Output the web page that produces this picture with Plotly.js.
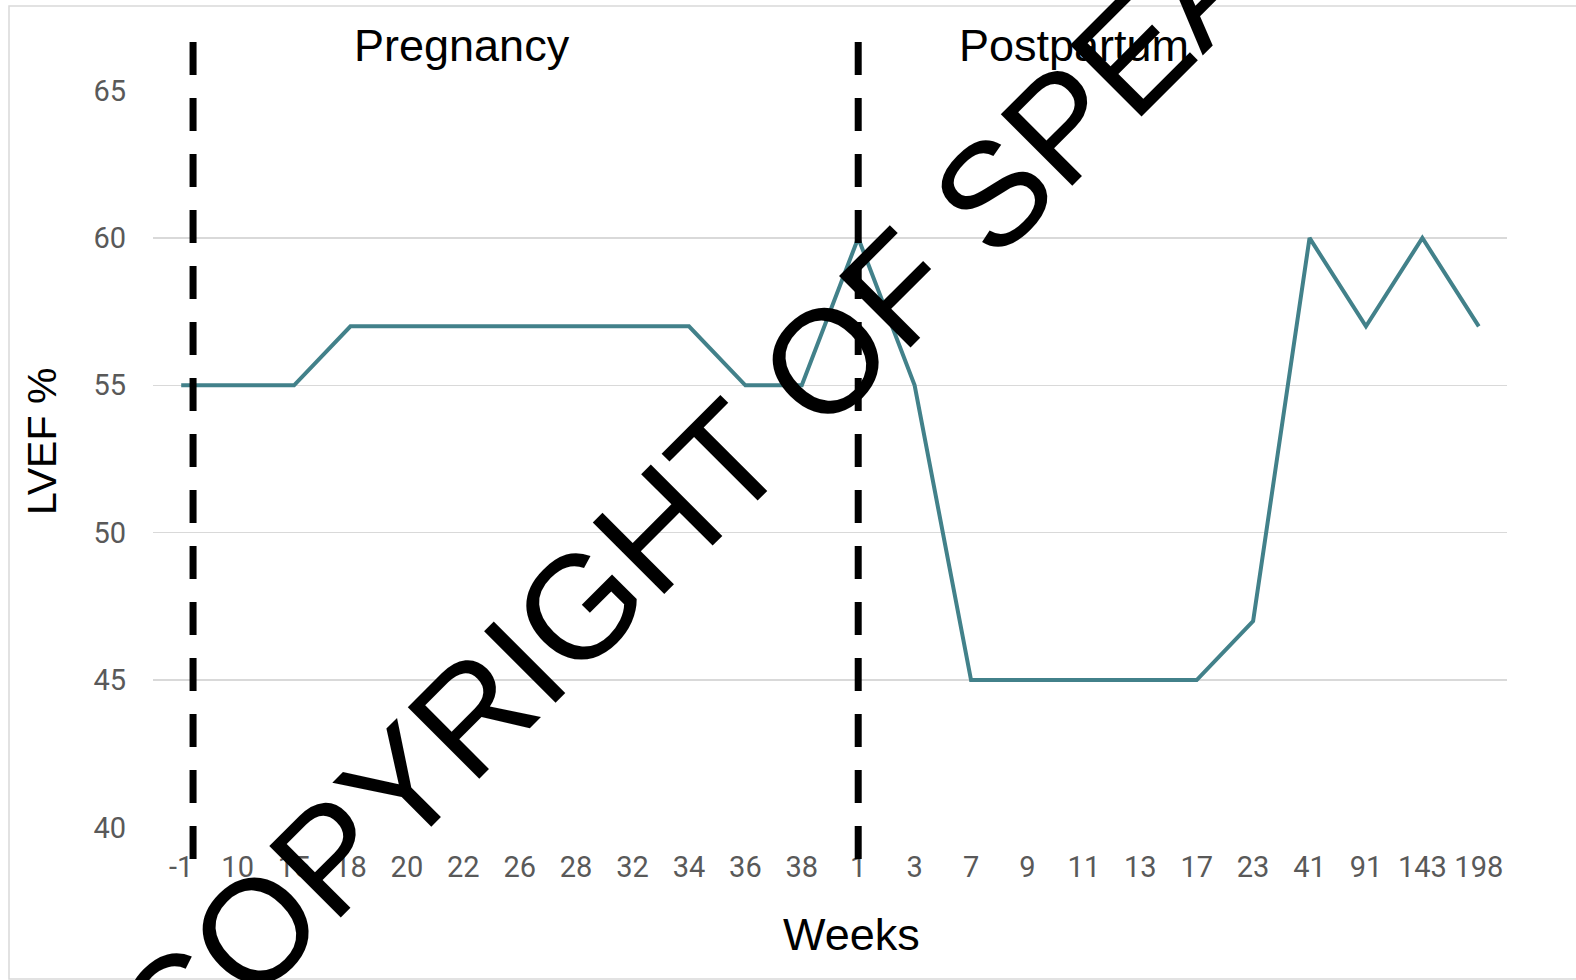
<!DOCTYPE html>
<html>
<head>
<meta charset="utf-8">
<script src="https://cdn.plot.ly/plotly-3.0.1.min.js"></script>
<style>html,body{margin:0;padding:0;background:#fff;}#chart{width:1576px;height:980px;}</style>
</head>
<body>
<div id="chart"></div>
<script>
// Data
const weekLabels = ["-1","10","15","18","20","22","26","28","32","34","36","38","1","3","7","9","11","13","17","23","41","91","143","198"];
const lvef = [55,55,55,57,57,57,57,57,57,57,55,55,60,55,45,45,45,45,45,47,60,57,60,57];
const yTicks = [40,45,50,55,60,65];
const phaseLabels = ["Pregnancy","Postpartum"];
const phaseDividers = [0.21, 12]; // category positions of the dashed dividers
const watermark = "COPYRIGHT OF SPEAKER";

// geometry helpers (pixel -> paper)
const W = 1576, H = 980;
const L = 153, R = 69, T = 90, B = 152;
const pw = W - L - R, ph = H - T - B;
const px = v => (v - L) / pw;
const py = v => (H - B - v) / ph;

const trace = {
  x: weekLabels,
  y: lvef,
  type: 'scatter',
  mode: 'lines',
  line: {color: '#42818a', width: 4},
  hoverinfo: 'skip'
};

const shapes = phaseDividers.map(d => ({
  type: 'line', xref: 'x', yref: 'paper',
  x0: d, x1: d, y0: py(42), y1: py(860),
  line: {color: '#000000', width: 7, dash: '33px,23px'}
}));
shapes.push({
  type: 'rect', xref: 'paper', yref: 'paper', layer: 'below',
  x0: px(9), x1: px(1600), y0: py(6), y1: py(979),
  line: {color: '#d9d9d9', width: 1.5}
});

const titleFont = {family: 'Liberation Sans, Arial, sans-serif', size: 45, color: '#000000'};

const annotations = [
  {text: phaseLabels[0], xref: 'paper', yref: 'paper', x: px(462), y: py(46), showarrow: false, xanchor: 'center', yanchor: 'middle', font: titleFont},
  {text: phaseLabels[1], xref: 'paper', yref: 'paper', x: px(1074), y: py(46), showarrow: false, xanchor: 'center', yanchor: 'middle', font: titleFont},
  {text: 'Weeks', xref: 'paper', yref: 'paper', x: px(851), y: py(934), showarrow: false, xanchor: 'center', yanchor: 'middle', font: titleFont},
  {text: 'LVEF %', xref: 'paper', yref: 'paper', x: px(42), y: py(442), showarrow: false, xanchor: 'center', yanchor: 'middle', textangle: -90, font: {family: 'Liberation Sans, Arial, sans-serif', size: 41, color: '#000000'}},
  {text: watermark, xref: 'paper', yref: 'paper', x: px(795), y: py(391), showarrow: false, xanchor: 'center', yanchor: 'middle', textangle: -45, font: {family: 'Liberation Sans, Arial, sans-serif', size: 147, color: '#000000'}}
];

const layout = {
  width: W, height: H,
  margin: {l: L, r: R, t: T, b: B},
  paper_bgcolor: '#ffffff',
  plot_bgcolor: '#ffffff',
  showlegend: false,
  xaxis: {
    type: 'category',
    categoryorder: 'array',
    categoryarray: weekLabels,
    range: [-0.5, weekLabels.length - 0.5],
    showgrid: false, zeroline: false, showline: false,
    ticks: '',
    ticklabelstandoff: 19,
    tickfont: {family: 'Roboto, sans-serif', size: 29, color: '#595959'},
    fixedrange: true
  },
  yaxis: {
    range: [39.98, 65.02],
    tickvals: yTicks,
    ticktext: yTicks.map(String),
    showgrid: true, gridcolor: '#d9d9d9', gridwidth: 1.5,
    zeroline: false, showline: false,
    ticks: '',
    ticklabelstandoff: 26,
    tickfont: {family: 'Roboto, sans-serif', size: 29, color: '#595959'},
    fixedrange: true
  },
  shapes: shapes,
  annotations: annotations
};

Plotly.newPlot('chart', [trace], layout, {staticPlot: true, displayModeBar: false});
</script>
</body>
</html>
